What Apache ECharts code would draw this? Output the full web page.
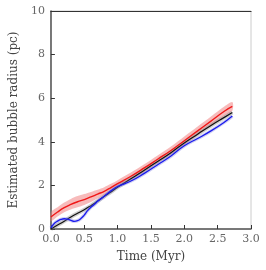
<!DOCTYPE html>
<html><head><meta charset="utf-8">
<script src="https://cdn.jsdelivr.net/npm/echarts@6/dist/echarts.min.js"></script>
<style>html,body{margin:0;padding:0;background:#fff}#c{width:266px;height:270px}</style>
</head><body><div id="c"></div>
<script>
const time = [0, 0.1, 0.2, 0.3, 0.4, 0.5, 0.6, 0.7, 0.8, 0.9, 1.0, 1.2, 1.4, 1.6, 1.8, 2.0, 2.2, 2.4, 2.6, 2.72];
const redMid = [0.55, 0.78, 0.98, 1.13, 1.25, 1.35, 1.47, 1.6, 1.73, 1.9, 2.08, 2.42, 2.8, 3.2, 3.6, 4.05, 4.5, 4.95, 5.4, 5.62];
const redLo = [0.36, 0.57, 0.77, 0.9, 1.0, 1.1, 1.24, 1.4, 1.56, 1.74, 1.93, 2.26, 2.63, 3.03, 3.42, 3.86, 4.3, 4.74, 5.18, 5.42];
const redHi = [0.77, 1.0, 1.21, 1.38, 1.51, 1.6, 1.7, 1.8, 1.92, 2.07, 2.24, 2.59, 2.97, 3.37, 3.78, 4.24, 4.7, 5.16, 5.62, 5.82];
const blackMid = [0.0, 0.18, 0.36, 0.55, 0.72, 0.88, 1.07, 1.28, 1.5, 1.7, 1.92, 2.3, 2.7, 3.1, 3.5, 3.95, 4.35, 4.75, 5.12, 5.34];
const blueTime = [0, 0.05, 0.1, 0.15, 0.2, 0.25, 0.3, 0.35, 0.4, 0.45, 0.5, 0.55, 0.6, 0.65, 0.7, 0.8, 0.9, 1.0, 1.2, 1.4, 1.6, 1.8, 2.0, 2.2, 2.4, 2.6, 2.72];
const blueMid = [0.05, 0.25, 0.36, 0.44, 0.47, 0.45, 0.4, 0.35, 0.38, 0.48, 0.64, 0.84, 1.0, 1.12, 1.27, 1.5, 1.75, 1.95, 2.2, 2.55, 2.95, 3.35, 3.82, 4.15, 4.5, 4.9, 5.18];
const xTicks = ['0.0', '0.5', '1.0', '1.5', '2.0', '2.5', '3.0'];
const yTicks = ['0', '2', '4', '6', '8', '10'];

const pairs = (xs, ys) => xs.map((x, i) => [x, ys[i]]);
const font = '"DejaVu Serif", "Liberation Serif", serif';
const chart = echarts.init(document.getElementById('c'));
chart.setOption({
  animation: false,
  grid: { left: 41, right: 15, top: 11, bottom: 41, show: true, borderColor: '#ccc', borderWidth: 1 },
  xAxis: [{
    type: 'value', min: 0, max: 3, interval: 0.5,
    name: 'Time (Myr)', nameLocation: 'middle', nameGap: 22,
    nameTextStyle: { fontFamily: font, fontSize: 12, color: '#444' },
    axisLine: { show: true, lineStyle: { color: '#555', width: 1.5 } },
    axisTick: { show: true, inside: true, length: 4, lineStyle: { color: '#333' } },
    axisLabel: { fontFamily: font, fontSize: 11, color: '#666', margin: 5,
      formatter: v => xTicks[Math.round(v / 0.5)] },
    splitLine: { show: false }
  }, {
    type: 'value', min: 0, max: 3, interval: 0.5, position: 'top',
    axisLine: { show: true, lineStyle: { color: '#333', width: 1.2 } },
    axisTick: { show: false }, axisLabel: { show: false }, splitLine: { show: false }
  }],
  yAxis: {
    type: 'value', min: 0, max: 10, interval: 2,
    name: 'Estimated bubble radius (pc)', nameLocation: 'middle', nameGap: 27,
    nameTextStyle: { fontFamily: font, fontSize: 12, color: '#444' },
    axisLine: { show: true, lineStyle: { color: '#555', width: 1.5 } },
    axisTick: { show: true, inside: true, length: 4, lineStyle: { color: '#333' } },
    axisLabel: { fontFamily: font, fontSize: 11, color: '#666', margin: 6,
      formatter: v => yTicks[Math.round(v / 2)] },
    splitLine: { show: false }
  },
  series: [
    { type: 'custom', data: [0], silent: true,
      renderItem: (params, api) => {
        const upper = time.map((t, i) => api.coord([t, redHi[i]]));
        const lower = time.map((t, i) => api.coord([t, redLo[i]])).reverse();
        return { type: 'polygon', shape: { points: upper.concat(lower), smooth: 0.3 },
          style: { fill: 'rgba(240,120,120,0.5)', stroke: 'none' } };
      } },
    { type: 'line', data: pairs(time, blackMid), symbol: 'none', smooth: true,
      lineStyle: { color: 'rgba(120,120,120,0.35)', width: 4 } },
    { type: 'line', data: pairs(time, blackMid), symbol: 'none', smooth: true,
      lineStyle: { color: '#111', width: 1.2 } },
    { type: 'line', data: pairs(blueTime, blueMid), symbol: 'none', smooth: true,
      lineStyle: { color: 'rgba(120,120,220,0.35)', width: 3.5 } },
    { type: 'line', data: pairs(blueTime, blueMid), symbol: 'none', smooth: true,
      lineStyle: { color: '#1a1aee', width: 1.3 } },
    { type: 'line', data: pairs(time, redMid), symbol: 'none', smooth: true,
      lineStyle: { color: '#f01818', width: 1.4 } }
  ]
});
</script></body></html>
